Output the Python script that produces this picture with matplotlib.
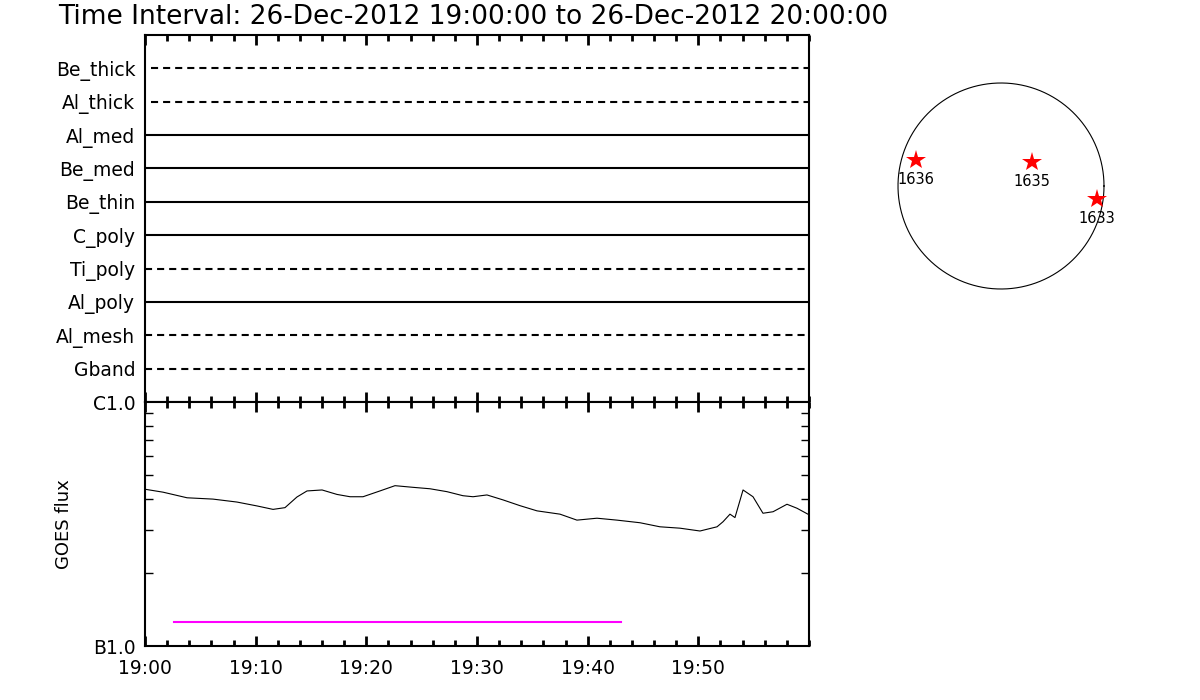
import matplotlib
matplotlib.use("Agg")
import matplotlib.pyplot as plt
import numpy as np
from matplotlib.ticker import FixedLocator, NullFormatter

# ---------------- data ----------------
title = "Time Interval: 26-Dec-2012 19:00:00 to 26-Dec-2012 20:00:00"
channels = ["Be_thick", "Al_thick", "Al_med", "Be_med", "Be_thin",
            "C_poly", "Ti_poly", "Al_poly", "Al_mesh", "Gband"]
channel_dashed = [True, True, False, False, False, False, True, False, True, True]
channel_end_min = [60, 60, 60, 60, 60, 60, 59.6, 60, 60, 60]
channel_start_min = [0.5, 0.5, 0, 0, 0, 0, 0, 0, 0, 0]

goes_min = [0, 1.63, 3.8, 6.14, 8.31, 10.12, 11.57, 12.65, 13.73, 14.64, 16.0,
            17.35, 18.53, 19.7, 21.23, 22.59, 24.22, 25.75, 27.29, 28.73, 29.64,
            30.9, 32.35, 33.88, 35.42, 37.5, 39.03, 40.84, 42.65, 44.73, 46.53,
            48.34, 50.15, 51.69, 52.23, 52.86, 53.31, 54.04, 54.94, 55.84, 56.75,
            58.01, 58.91, 59.9]
goes_flux = [4.39, 4.27, 4.05, 4.00, 3.89, 3.75, 3.63, 3.69, 4.08, 4.32, 4.36,
             4.18, 4.09, 4.09, 4.32, 4.54, 4.47, 4.41, 4.29, 4.13, 4.09,
             4.16, 3.97, 3.76, 3.58, 3.47, 3.28, 3.34, 3.28, 3.20, 3.08,
             3.04, 2.96, 3.08, 3.23, 3.47, 3.36, 4.36, 4.09, 3.50, 3.55,
             3.81, 3.67, 3.47]  # units of 1e-7 W/m^2
goes_scale = 1e-7

interval_min = [2.62, 43.0]
interval_flux = [1.254e-7, 1.254e-7]

ar_names = ["1636", "1635", "1633"]
ar_x = [-0.825, 0.301, 0.932]   # solar radii
ar_y = [0.252, 0.233, -0.126]

x_major = [0, 10, 20, 30, 40, 50]
x_major_labels = ["19:00", "19:10", "19:20", "19:30", "19:40", "19:50"]

# ---------------- figure ----------------
fig = plt.figure(figsize=(12, 7), dpi=100)
plt.rcParams['font.family'] = ['DejaVu Sans']

L, W = 145 / 1200, 664 / 1200
ax1 = fig.add_axes([L, 1 - 402 / 700, W, 367 / 700])
ax2 = fig.add_axes([L, 1 - 646 / 700, W, 244 / 700])

lw_frame = 1.5
for ax in (ax1, ax2):
    for s in ax.spines.values():
        s.set_linewidth(lw_frame)
    ax.set_xlim(0, 60)
    ax.xaxis.set_major_locator(FixedLocator(x_major))
    ax.xaxis.set_minor_locator(FixedLocator(np.arange(0, 61, 2)))
    ax.tick_params(axis='x', which='major', direction='in', length=7, width=2,
                   top=True, bottom=True)
    ax.tick_params(axis='x', which='minor', direction='in', length=4, width=2,
                   top=True, bottom=True)

# top panel
n = len(channels)
ax1.set_ylim(n + 1, 0)
ypos = np.arange(1, n + 1)
for i, (name, dashed) in enumerate(zip(channels, channel_dashed)):
    kw = dict(color='black', lw=1.5)
    if dashed:
        kw['dashes'] = (3.4, 2.4)
    ax1.plot([channel_start_min[i], channel_end_min[i]], [ypos[i], ypos[i]], **kw)
ax1.set_yticks(ypos)
ax1.set_yticklabels(channels, fontsize=13.5)
ax1.tick_params(axis='y', length=0, pad=7)
ax1.set_xticklabels([])

# bottom panel
ax2.set_yscale('log')
ax2.set_ylim(1e-7, 1e-6)
ax2.plot(goes_min, np.array(goes_flux) * goes_scale, color='black', lw=0.8)
ax2.plot(interval_min, interval_flux, color='magenta', lw=1.5)
ax2.yaxis.set_major_locator(FixedLocator([1e-7, 1e-6]))
ax2.yaxis.set_minor_locator(FixedLocator(np.arange(2, 10) * 1e-7))
ax2.yaxis.set_minor_formatter(NullFormatter())
ax2.set_yticklabels(["B1.0", "C1.0"], fontsize=13.5)
ax2.tick_params(axis='y', which='major', direction='in', length=0, pad=7)
ax2.tick_params(axis='y', which='minor', direction='in', length=6, width=1,
                left=True, right=True)
ax2.set_xticklabels(x_major_labels, fontsize=13.5)
ax2.tick_params(axis='x', which='major', pad=9)
ax2.set_ylabel("GOES flux", fontsize=13, labelpad=14)

fig.text(58 / 1200, 1 - 24 / 700, title, fontsize=19, ha='left', va='baseline')

# disk panel
r = 103
ax3 = fig.add_axes([(1001 - 120) / 1200, 1 - (186 + 120) / 700, 240 / 1200, 240 / 700])
lim = 120 / r
ax3.set_xlim(-lim, lim)
ax3.set_ylim(-lim, lim)
ax3.set_aspect('equal')
ax3.axis('off')
th = np.linspace(0, 2 * np.pi, 400)
ax3.plot(np.cos(th), np.sin(th), color='black', lw=0.8)
ax3.plot(ar_x, ar_y, linestyle='none', marker='*', color='red', markersize=15,
         markeredgewidth=0)
for name, x, y in zip(ar_names, ar_x, ar_y):
    ax3.text(x, y - 0.12, name, fontsize=10.5, ha='center', va='top')

fig.savefig("out.png", dpi=100)
